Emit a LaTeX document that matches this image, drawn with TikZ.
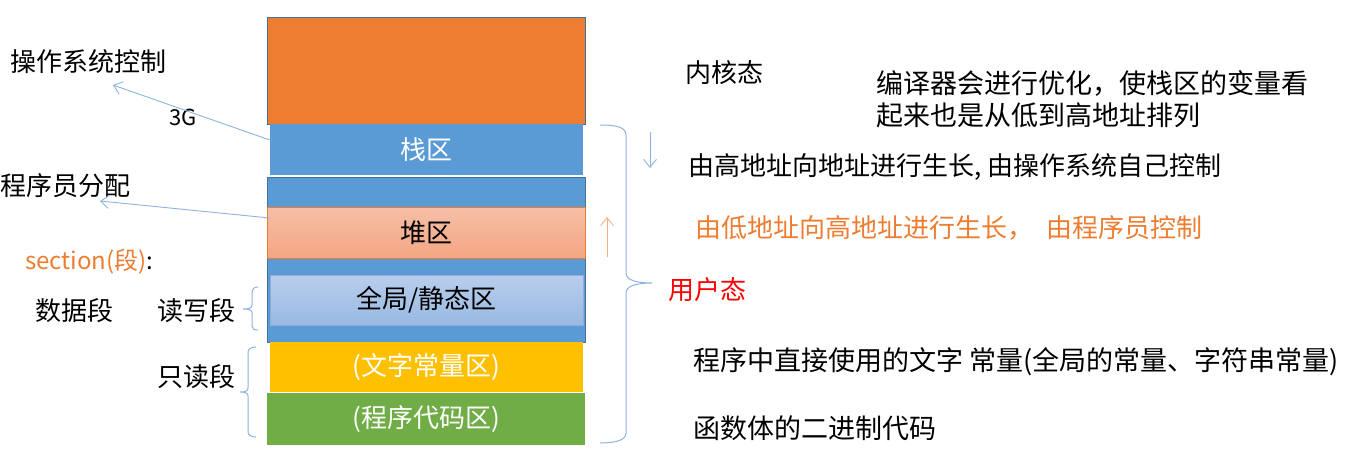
\documentclass[tikz,border=0pt]{standalone}
\usepackage{fontspec}
\setmainfont{Noto Sans CJK SC}
\usetikzlibrary{arrows.meta,calc}
\definecolor{korange}{HTML}{ED7D31}
\definecolor{kborder}{HTML}{41719C}
\definecolor{kblue}{HTML}{5B9BD5}
\definecolor{heaptop}{HTML}{F6BFA6}
\definecolor{heapbot}{HTML}{F3A683}
\definecolor{globtop}{HTML}{B9CEEB}
\definecolor{globbot}{HTML}{98B9E3}
\definecolor{globedge}{HTML}{8FAADC}
\definecolor{kyellow}{HTML}{FFC000}
\definecolor{kgreen}{HTML}{70AD47}
\definecolor{lineblue}{HTML}{8CB3E1}
\definecolor{uporange}{HTML}{F4B183}
\begin{document}
\begin{tikzpicture}[x=1pt,y=-1pt,
  font=\fontsize{26}{31}\selectfont,
  blk/.style={rectangle, inner sep=0pt, anchor=center},
  lbl/.style={inner sep=0pt, anchor=west},
  serif/.style={font=\fontsize{27}{32}\selectfont},
  conn/.style={draw=lineblue, line width=0.9pt, -{Straight Barb[length=8pt,width=13pt]}},
  brc/.style={draw=lineblue, line width=1pt}]
\useasboundingbox (0,0) rectangle (1353,448);

% memory blocks
\node[blk, fill=korange, draw=kborder, line width=0.8pt, minimum width=318pt, minimum height=107pt] (kernel) at (426,70.5) {};
\node[blk, fill=kblue, draw=kborder, line width=0.8pt, minimum width=318pt, minimum height=165pt] (gap) at (426,259.5) {};
\node[blk, fill=kblue, minimum width=313pt, minimum height=51pt, text=white] (stack) at (426.5,149.5) {栈区};
\node[blk, top color=heaptop, bottom color=heapbot, draw=korange, line width=0.8pt, minimum width=318pt, minimum height=51pt] (heap) at (426,232.5) {堆区};
\node[blk, top color=globtop, bottom color=globbot, draw=globedge, line width=0.6pt, minimum width=313pt, minimum height=50pt] (global) at (426.5,300) {全局/静态区};
\node[blk, fill=kyellow, minimum width=313pt, minimum height=50pt, text=white] (rodata) at (426.5,367) {(文字常量区)};
\node[blk, fill=kgreen, minimum width=318pt, minimum height=52pt, text=white] (code) at (426,419) {(程序代码区)};

% left labels
\node[lbl] (oslabel) at (10,62) {操作系统控制};
\node[lbl, font=\fontsize{22}{26}\selectfont] (g3) at (169,117) {3G};
\node[lbl] (proglabel) at (0,186) {程序员分配};
\node[lbl, font=\fontsize{24}{28}\selectfont] (section) at (25,262) {\textcolor{korange}{section(段)}:};
\node[lbl] (data) at (35,311) {数据段};
\node[lbl] (rw) at (157,311) {读写段};
\node[lbl] (ro) at (157,377) {只读段};

% connectors
\coordinate (osend) at (113,85);
\coordinate (progend) at (100,201);
\draw[conn] ($(stack.west)+(0,-9.5)$) -- (osend);
\draw[conn] ($(heap.west)+(3,-14.5)$) -- (progend);

% left braces
\draw[brc] (258,287) .. controls (254,287) and (252,289) .. (252,292) -- (252,305)
  .. controls (252,308) and (249,309) .. (243,309)
  .. controls (249,309) and (252,310) .. (252,313) -- (252,326)
  .. controls (252,329) and (254,330) .. (258,330);
\draw[brc] (256,347) .. controls (251,347) and (248,349) .. (248,352) -- (248,388)
  .. controls (248,391) and (245,392) .. (240,392)
  .. controls (245,392) and (248,393) .. (248,396) -- (248,432)
  .. controls (248,435) and (251,437) .. (256,437);

% right brace
\draw[brc] (600,125) .. controls (616,125) and (626,127) .. (626,135) -- (626,273)
  .. controls (626,280) and (636,283) .. (652,283)
  .. controls (636,283) and (626,286) .. (626,293) -- (626,433)
  .. controls (626,440) and (616,443) .. (600,443);

% growth arrows
\coordinate (downS) at (650,132);
\coordinate (downE) at (650,168);
\coordinate (upS) at (607,257);
\coordinate (upE) at (607,217);
\draw[conn] (downS) -- (downE);
\draw[conn, draw=uporange] (upS) -- (upE);

% right labels
\node[lbl] (kmode) at (685,73) {内核态};
\node[lbl, serif, align=left] (note) at (876,99) {编译器会进行优化，使栈区的变量看\\起来也是从低到高地址排列};
\node[lbl] (stackgrow) at (688,167) {由高地址向地址进行生长, 由操作系统自己控制};
\node[lbl, text=korange] (heapgrow) at (695,228) {由低地址向高地址进行生长，\hspace{0.5em}由程序员控制};
\node[lbl, text=red] (umode) at (668,290) {用户态};
\node[lbl, serif] (rodesc) at (693,362) {程序中直接使用的文字 常量(全局的常量、字符串常量)};
\node[lbl, serif] (codedesc) at (693,428) {函数体的二进制代码};
\end{tikzpicture}
\end{document}
